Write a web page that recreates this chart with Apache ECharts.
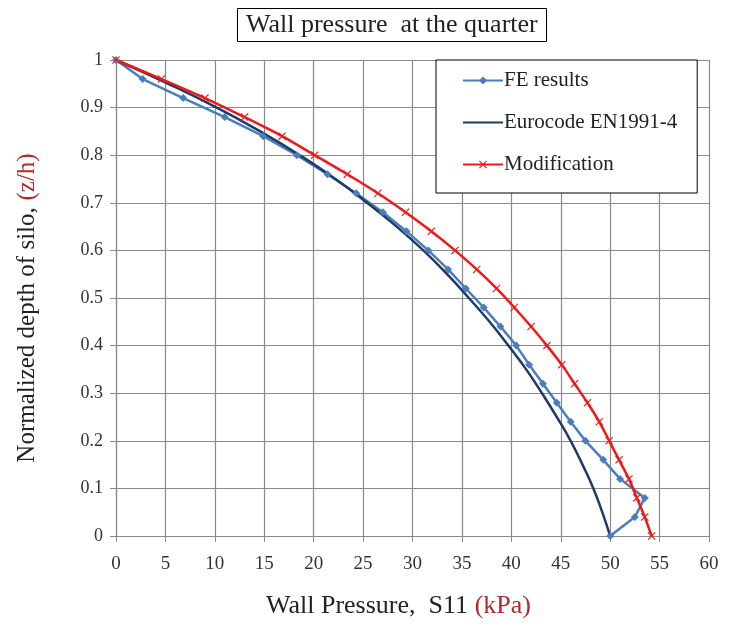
<!DOCTYPE html>
<html>
<head>
<meta charset="utf-8">
<script src="https://cdn.jsdelivr.net/npm/echarts@6/dist/echarts.min.js"></script>
<style>
  html, body { margin: 0; padding: 0; background: #fff; }
</style>
</head>
<body>
<div id="chart" style="width:736px;height:626px"></div>
<script>
// normalized depth z/h for FE and Modification points (every 0.04)
const depthFE = [1, 0.96, 0.92, 0.88, 0.84, 0.8, 0.76, 0.72, 0.68, 0.64, 0.6, 0.56, 0.52,
  0.48, 0.44, 0.4, 0.36, 0.32, 0.28, 0.24, 0.2, 0.16, 0.12, 0.08, 0.04, 0]
const pressureFE = [0, 2.7, 6.8, 11.0, 14.9, 18.3, 21.4, 24.3, 27.0, 29.4, 31.6, 33.6, 35.4,
  37.2, 38.9, 40.5, 41.8, 43.2, 44.6, 46.0, 47.5, 49.3, 51.0, 53.5, 52.5, 50.0]
const pressureMod = [0, 4.6, 9.0, 13.0, 16.8, 20.1, 23.4, 26.5, 29.3, 31.9, 34.3, 36.5, 38.5,
  40.3, 42.0, 43.6, 45.1, 46.4, 47.7, 48.9, 49.9, 50.9, 51.9, 52.7, 53.5, 54.2]

// Eurocode curve, every 0.05
const depthEC = [1, 0.95, 0.9, 0.85, 0.8, 0.75, 0.7, 0.65, 0.6, 0.55, 0.5, 0.45, 0.4,
  0.35, 0.3, 0.25, 0.2, 0.15, 0.1, 0.05, 0]
const pressureEC = [0, 5.3, 10.2, 14.6, 18.6, 22.2, 25.4, 28.4, 31.1, 33.5, 35.7, 37.8, 39.7,
  41.5, 43.1, 44.6, 46.0, 47.2, 48.3, 49.2, 50.0]

const xTicks = { min: 0, max: 60, interval: 5 }
const yTicks = { min: 0, max: 1, interval: 0.1 }

const pair = (xs, ys) => xs.map((x, i) => [x, ys[i]])

const crossPath = 'path://M0,1L1,0L5,4L9,0L10,1L6,5L10,9L9,10L5,6L1,10L0,9L4,5Z'
const serif = 'Liberation Serif'
const gridColor = '#8a8a8a'
const unitRed = '#b02a2a'

const chart = echarts.init(document.getElementById('chart'))
chart.setOption({
  animation: false,
  backgroundColor: '#fff',
  title: {
    text: 'Wall pressure  at the quarter',
    left: 237,
    top: 8,
    padding: [4, 9, 4, 9],
    borderColor: '#000',
    borderWidth: 1,
    textStyle: {fontFamily: serif, fontSize: 26, fontWeight: 'normal', color: '#222'}
  },
  grid: {
    left: 116,
    right: 27,
    top: 60,
    bottom: 90
  },
  legend: {
    orient: 'vertical',
    left: 436,
    top: 60,
    padding: [10, 20, 18, 26],
    itemGap: 21,
    itemWidth: 40,
    itemHeight: 10,
    backgroundColor: '#fff',
    borderColor: '#000',
    borderWidth: 1,
    textStyle: {fontFamily: serif, fontSize: 21, color: '#222', padding: [0, 0, 0, -4]},
    data: [
      'FE results',
      {name: 'Eurocode EN1991-4', itemStyle: {opacity: 0}},
      'Modification'
    ]
  },
  xAxis: {
    type: 'value',
    min: xTicks.min,
    max: xTicks.max,
    interval: xTicks.interval,
    name: '{a|Wall Pressure,  S11}  {b|(kPa)}',
    nameLocation: 'middle',
    nameGap: 57,
    nameTextStyle: {
      padding: [0, 28, 0, 0],
      rich: {
        a: {fontFamily: serif, fontSize: 26, color: '#222'},
        b: {fontFamily: serif, fontSize: 26, color: unitRed}
      }
    },
    axisLine: {show: true, lineStyle: {color: gridColor, width: 1.2}},
    axisTick: {show: true, length: 6, lineStyle: {color: gridColor}},
    axisLabel: {fontFamily: serif, fontSize: 19, color: '#333', margin: 19},
    splitLine: {show: true, lineStyle: {color: gridColor, width: 1.2}}
  },
  yAxis: {
    type: 'value',
    min: yTicks.min,
    max: yTicks.max,
    interval: yTicks.interval,
    name: '{a|Normalized depth of silo,}  {b|(z/h)}',
    nameLocation: 'middle',
    nameGap: 76,
    nameTextStyle: {
      padding: [0, 20, 0, 0],
      rich: {
        a: {fontFamily: serif, fontSize: 25, color: '#222'},
        b: {fontFamily: serif, fontSize: 25, color: unitRed}
      }
    },
    axisLine: {show: true, lineStyle: {color: gridColor, width: 1.2}},
    axisTick: {show: true, length: 6, lineStyle: {color: gridColor}},
    axisLabel: {fontFamily: serif, fontSize: 18, color: '#333', margin: 13},
    splitLine: {show: true, lineStyle: {color: gridColor, width: 1.2}}
  },
  series: [
    {
      name: 'FE results',
      type: 'line',
      data: pair(pressureFE, depthFE),
      symbol: 'diamond',
      symbolSize: 8,
      showAllSymbol: true,
      lineStyle: {color: '#4a7ebb', width: 2.5},
      itemStyle: {color: '#4a7ebb'}
    },
    {
      name: 'Eurocode EN1991-4',
      type: 'line',
      data: pair(pressureEC, depthEC),
      smooth: true,
      symbol: 'none',
      lineStyle: {color: '#1f3a68', width: 2.5},
      itemStyle: {color: '#1f3a68'}
    },
    {
      name: 'Modification',
      type: 'line',
      data: pair(pressureMod, depthFE),
      smooth: 0.3,
      symbol: crossPath,
      symbolSize: 8,
      showAllSymbol: true,
      lineStyle: {color: '#f01818', width: 2.5},
      itemStyle: {color: '#f01818'}
    }
  ]
})
</script>
</body>
</html>
